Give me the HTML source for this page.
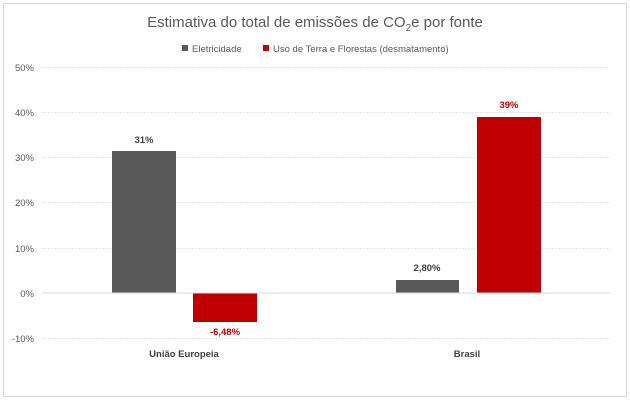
<!DOCTYPE html>
<html><head><style>
body{margin:0;background:#fff;}
svg text{font-family:"Liberation Sans",sans-serif;}
</style></head><body>
<svg width="630" height="404" xmlns="http://www.w3.org/2000/svg">
<rect x="3.5" y="3.5" width="623" height="393" fill="#fff" stroke="#d9d9d9"/>
<text x="315" y="27" text-anchor="middle" font-size="15" fill="#595959">Estimativa do total de emissões de CO<tspan font-size="10" dy="4">2</tspan><tspan dy="-4">e por fonte</tspan></text>
<rect x="182" y="45" width="6" height="6" fill="#595959"/>
<text x="192" y="52" font-size="9.5" fill="#595959">Eletricidade</text>
<rect x="263" y="45" width="6" height="6" fill="#c00000"/>
<text x="273" y="52" font-size="9.5" fill="#595959">Uso de Terra e Florestas (desmatamento)</text>
<g stroke="#e6e6e6" stroke-width="1" stroke-dasharray="2,1">
<line x1="42" x2="610" y1="67.5" y2="67.5"/>
<line x1="42" x2="610" y1="112.5" y2="112.5"/>
<line x1="42" x2="610" y1="157.5" y2="157.5"/>
<line x1="42" x2="610" y1="202.5" y2="202.5"/>
<line x1="42" x2="610" y1="248.5" y2="248.5"/>
<line x1="42" x2="610" y1="338.5" y2="338.5"/>
</g>
<g font-size="9.5" fill="#595959" text-anchor="end">
<text x="34" y="71">50%</text><text x="34" y="116">40%</text><text x="34" y="161">30%</text>
<text x="34" y="206">20%</text><text x="34" y="252">10%</text><text x="34" y="297">0%</text><text x="34" y="342">-10%</text>
</g>
<rect x="112" y="151" width="64" height="142" fill="#595959"/>
<rect x="193" y="293" width="64" height="29" fill="#c00000"/>
<rect x="396" y="280" width="63" height="13" fill="#595959"/>
<rect x="477" y="117" width="64" height="176" fill="#c00000"/>
<line x1="42" x2="610" y1="293" y2="293" stroke="#d9d9d9"/>
<g font-size="9.5" font-weight="bold" text-anchor="middle">
<text x="144" y="143" fill="#404040">31%</text>
<text x="225" y="335" fill="#c00000">-6,48%</text>
<text x="427" y="271" fill="#404040">2,80%</text>
<text x="509" y="108" fill="#c00000">39%</text>
</g>
<g font-size="9.5" font-weight="bold" fill="#404040" text-anchor="middle">
<text x="184" y="357">União Europeia</text>
<text x="467" y="357">Brasil</text>
</g>
</svg>
</body></html>
